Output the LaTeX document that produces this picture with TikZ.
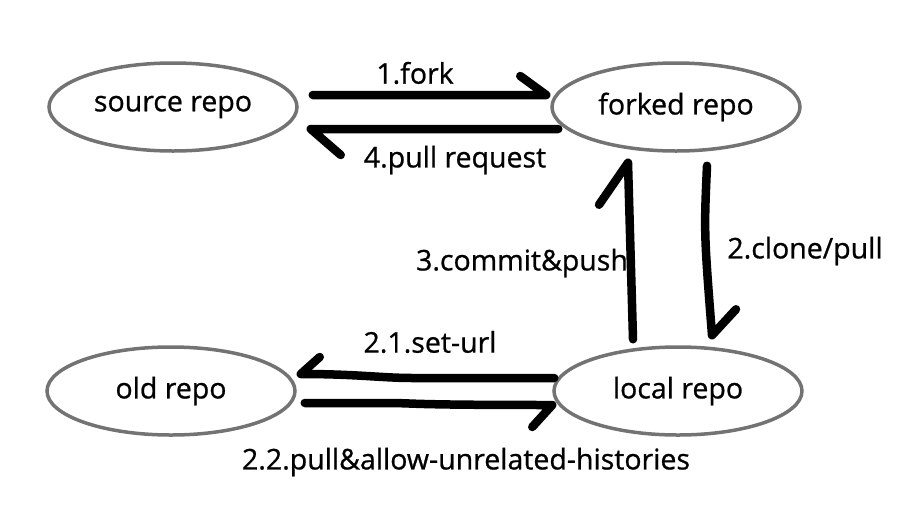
\documentclass[tikz,border=0pt]{standalone}
\usepackage{fontspec}
\setmainfont{Open Sans}[FakeBold=0.8]
\usetikzlibrary{shapes.geometric,calc}
\begin{document}
\begin{tikzpicture}[x=1pt,y=-1pt,
  repo/.style={ellipse,draw=black!55,line width=3.5pt,minimum width=248pt,minimum height=88pt,inner sep=0pt,font=\fontsize{28.5}{33}\selectfont},
  arr/.style={line width=8.5pt,line cap=round,line join=round,black},
  lbl/.style={font=\fontsize{28.5}{33}\selectfont,inner sep=0pt}]
\useasboundingbox (0,0) rectangle (923,517);
\node[repo] (src) at (173,107) {source repo};
\node[repo] (fork) at (676,107) {forked repo};
\node[repo] (old) at (171,391) {old repo};
\node[repo] (loc) at (678,391) {local repo};
% 1.fork
\draw[arr] ($(src.east)+(14,-12)$) -- ($(fork.west)+(-4,-12)$) -- ++(-26,-19);
\node[lbl] (l1) at (415,73) {1.fork};
% 4.pull request
\draw[arr] ($(fork.west)+(8,22)$) -- ($(src.east)+(12,22)$) -- ++(30,26);
\node[lbl] (l4) at (455,160) {4.pull request};
% 3.commit&push
\draw[arr] ($(loc.north)+(-45,-6)$) -- ($(fork.south)+(-48,10)$) -- ++(-29,42);
\node[lbl] (l3) at (522,263) {3.commit\&push};
% 2.clone/pull
\draw[arr] ($(fork.south)+(31,13)$) .. controls ($(fork.south)+(28,80)$) .. ($(loc.north)+(34,-10)$) -- ++(24,-26);
\node[lbl] (l2) at (805,251) {2.clone/pull};
% 2.1.set-url
\draw[arr] ($(loc.west)+(2,-13)$) -- ($(loc.west)+(-140,-13)$) .. controls ($(loc.west)+(-170,-13)$) and ($(old.east)+(60,-17)$) .. ($(old.east)+(4,-17)$) -- ++(19,-17);
\node[lbl] (l21) at (430,342) {2.1.set-url};
% 2.2
\draw[arr] ($(old.east)+(8,12)$) -- ($(old.east)+(90,12)$) .. controls ($(old.east)+(120,12)$) and ($(loc.west)+(-150,14)$) .. ($(loc.west)+(0,14)$) -- ++(-20,22);
\node[lbl] (l22) at (466,462) {2.2.pull\&allow-unrelated-histories};
\end{tikzpicture}
\end{document}
